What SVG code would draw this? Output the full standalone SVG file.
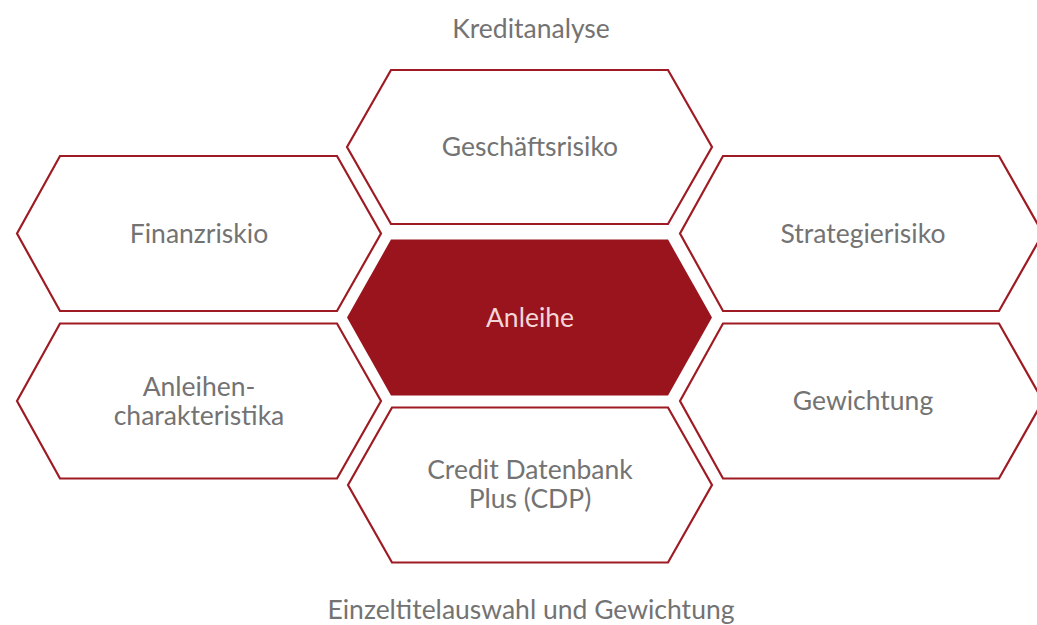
<svg xmlns="http://www.w3.org/2000/svg" width="1037" height="625" viewBox="0 0 1037 625">
  <style>
    .hex { fill: #ffffff; stroke: #9e1b23; stroke-width: 2.2; stroke-linejoin: miter; }
    .hex-core { fill: #99141c; stroke: none; }
    .lbl { font-family: Lato, "Open Sans", "Liberation Sans", sans-serif; font-size: 26.5px; fill: #737373; text-anchor: middle; dominant-baseline: central; }
    .lbl-core { fill: #f2d6d9; }
    .title { font-family: Lato, "Open Sans", "Liberation Sans", sans-serif; font-size: 26.5px; fill: #737373; text-anchor: middle; dominant-baseline: central; }
  </style>
  <rect width="1037" height="625" fill="#ffffff"/>

  <text class="title" x="531" y="28">Kreditanalyse</text>

  <g id="geschaeftsrisiko">
    <polygon class="hex" points="347,147 391,70 668,70 712,147 668,224 391,224"/>
    <text class="lbl" x="530" y="146">Geschäftsrisiko</text>
  </g>

  <g id="finanzrisiko">
    <polygon class="hex" points="17,233.5 60,156 337,156 381,233.5 337,311 60,311"/>
    <text class="lbl" x="199" y="233">Finanzriskio</text>
  </g>

  <g id="strategierisiko">
    <polygon class="hex" points="680,233.5 723,156 999,156 1043,233.5 999,311 723,311"/>
    <text class="lbl" x="863" y="233">Strategierisiko</text>
  </g>

  <g id="anleihe">
    <polygon class="hex-core" points="347,317.5 391,239.5 668,239.5 712,317.5 668,395.5 391,395.5"/>
    <text class="lbl lbl-core" x="530" y="317">Anleihe</text>
  </g>

  <g id="anleihencharakteristika">
    <polygon class="hex" points="17,401 60,323.5 337,323.5 381,401 337,478.5 60,478.5"/>
    <text class="lbl" x="199" y="386">Anleihen-</text>
    <text class="lbl" x="199" y="415">charakteristika</text>
  </g>

  <g id="gewichtung">
    <polygon class="hex" points="680,401 723,323.5 999,323.5 1043,401 999,478.5 723,478.5"/>
    <text class="lbl" x="863" y="400">Gewichtung</text>
  </g>

  <g id="cdp">
    <polygon class="hex" points="348,485 392,407.5 668,407.5 712,485 668,562.5 392,562.5"/>
    <text class="lbl" x="530" y="469">Credit Datenbank</text>
    <text class="lbl" x="530" y="498">Plus (CDP)</text>
  </g>

  <g id="connectors"></g>

  <text class="title" x="531" y="609">Einzeltitelauswahl und Gewichtung</text>
</svg>
